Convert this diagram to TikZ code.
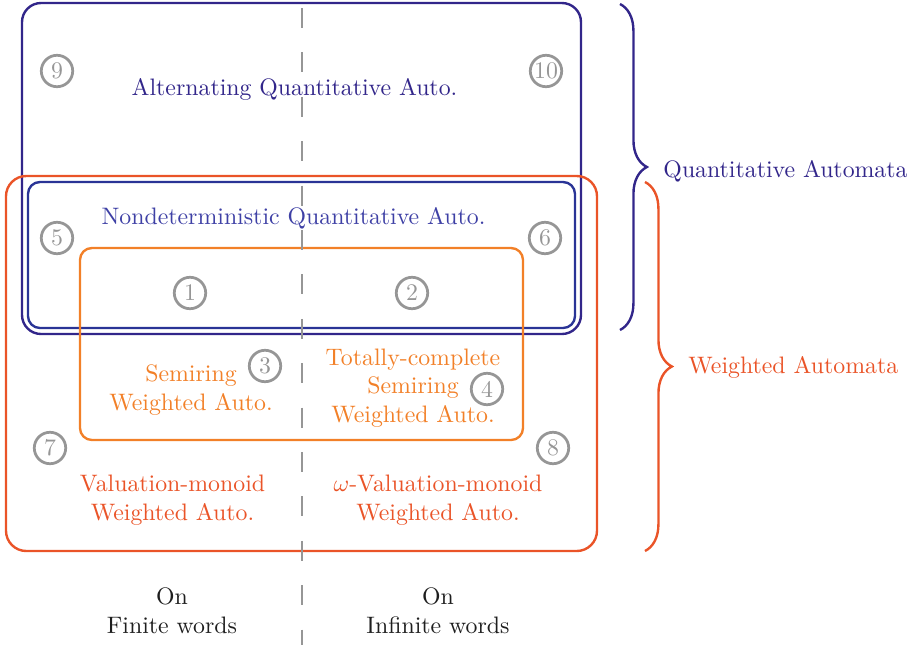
\documentclass[tikz,border=0pt]{standalone}
\usetikzlibrary{decorations.pathreplacing}
\definecolor{qblue}{RGB}{50,38,138}
\definecolor{nblue}{RGB}{42,52,150}
\definecolor{ntext}{RGB}{62,64,165}
\definecolor{wred}{RGB}{234,84,40}
\definecolor{sorange}{RGB}{242,128,40}
\definecolor{gcol}{RGB}{150,150,150}
\definecolor{txt}{RGB}{30,30,30}
\begin{document}
\begin{tikzpicture}[x=0.42pt,y=-0.42pt,
  boxline/.style={line width=1pt},
  numc/.style={circle,draw=gcol,line width=1.15pt,minimum size=13.2pt,inner sep=0pt,text=gcol},
  lbl/.style={align=center,inner sep=0pt},
  bracestyle/.style={decorate,decoration={brace,amplitude=11.3pt},line width=1pt}]
\useasboundingbox (0,0) rectangle (919,645);
% boxes
\draw[boxline,qblue,rounded corners=8pt] (22,3) rectangle (581,334);
\draw[boxline,wred,rounded corners=8.5pt] (6,176) rectangle (597,551);
\draw[boxline,nblue,rounded corners=5pt] (28,182) rectangle (575,328);
\draw[boxline,sorange,rounded corners=5pt] (80,248) rectangle (523,440);
% main labels
\node[lbl,anchor=base,text=qblue] (alt) at (294.5,95) {Alternating Quantitative Auto.};
\node[lbl,anchor=base,text=ntext] (nondet) at (293.5,224) {Nondeterministic Quantitative Auto.};
\node[lbl,text=sorange] (semi) at (191,390) {Semiring\\Weighted Auto.};
\node[lbl,text=sorange] (tcsemi) at (413,388) {Totally-complete\\Semiring\\Weighted Auto.};
\node[lbl,text=wred] (val) at (172.5,500) {Valuation-monoid\\Weighted Auto.};
\node[lbl,text=wred] (wval) at (438,500) {$\omega$-Valuation-monoid\\Weighted Auto.};
\node[lbl,text=txt] (fin) at (172,610.5) {On\\Finite words};
\node[lbl,text=txt] (inf) at (438,610.5) {On\\Infinite words};
% numbered circles
\node[numc] (c1) at (190,293) {1};
\node[numc] (c2) at (412,293) {2};
\node[numc] (c3) at (265,366) {3};
\node[numc] (c4) at (487,389) {4};
\node[numc] (c5) at (57,238) {5};
\node[numc] (c6) at (545,238) {6};
\node[numc] (c7) at (50,448) {7};
\node[numc] (c8) at (553,448) {8};
\node[numc] (c9) at (57,71) {9};
\node[numc] (c10) at (546,71) {10};
% braces
\coordinate (qb1) at (620,4);
\coordinate (qb2) at (620,330);
\coordinate (wb1) at (645,182);
\coordinate (wb2) at (645,551);
\draw[bracestyle,qblue] (qb1) -- (qb2);
\draw[bracestyle,wred] (wb1) -- (wb2);
\node[anchor=base west,inner sep=0pt,text=qblue] (qa) at (663,177) {Quantitative Automata};
\node[anchor=base west,inner sep=0pt,text=wred] (wa) at (688,373) {Weighted Automata};
% dashed separator
\coordinate (d1) at (302,8);
\coordinate (d2) at (302,645);
\draw[gcol,line width=1.1pt,dash pattern=on 8.4pt off 10.25pt] (d1) -- (d2);
\end{tikzpicture}
\end{document}
